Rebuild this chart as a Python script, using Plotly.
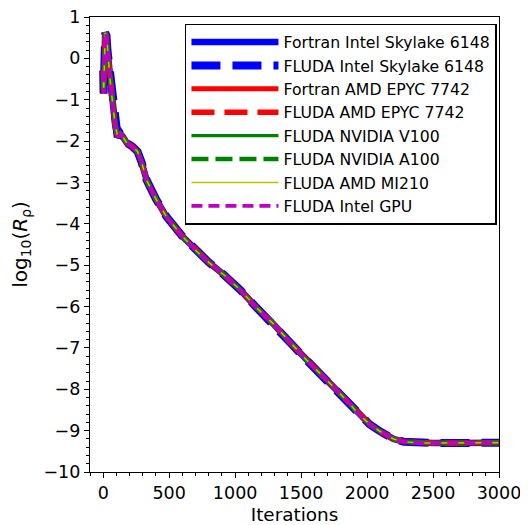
import plotly.graph_objects as go

# Shared convergence history (all runs overlap)
iterations = [0, 3, 8, 15, 25, 32, 40, 55, 70, 90, 110, 130, 150, 180, 220, 260, 290, 330,
              400, 480, 600, 710, 800, 910, 1040, 1160, 1290, 1420, 1540, 1670, 1800, 1870,
              1920, 2020, 2100, 2150, 2200, 2280, 2400, 2500, 2700, 3000]
log_res = [-0.3, -0.85, -0.3, 0.62, 0.55, 0.2, -0.05, -0.6, -1.1, -1.6, -1.9, -1.82, -1.9,
           -2.05, -2.13, -2.25, -2.5, -2.95, -3.4, -3.83, -4.3, -4.67, -4.93, -5.22, -5.6,
           -6.02, -6.42, -6.88, -7.29, -7.7, -8.12, -8.35, -8.55, -8.85, -9.02, -9.12,
           -9.2, -9.27, -9.3, -9.3, -9.3, -9.29]

series_names = ["Fortran Intel Skylake 6148", "FLUDA Intel Skylake 6148",
                "Fortran AMD EPYC 7742", "FLUDA AMD EPYC 7742",
                "FLUDA NVIDIA V100", "FLUDA NVIDIA A100",
                "FLUDA AMD MI210", "FLUDA Intel GPU"]
series_colors = ["#0000ff", "#0000ff", "#ff0000", "#ff0000",
                 "#008000", "#008000", "#bfbf00", "#bf00bf"]
series_widths = [6.5, 8, 5, 5.3, 3.3, 4.5, 1.6, 3.7]
series_dash = ["solid", "29px,12px", "solid", "23px,10px",
               "solid", "17px,7px", "solid", "11px,6px"]

x_ticks = [0, 500, 1000, 1500, 2000, 2500, 3000]
y_ticks = [1, 0, -1, -2, -3, -4, -5, -6, -7, -8, -9, -10]

fig = go.Figure()
for i, name in enumerate(series_names):
    fig.add_trace(go.Scatter(
        x=iterations, y=log_res, mode="lines", name=name,
        line=dict(color=series_colors[i], width=series_widths[i], dash=series_dash[i]),
    ))

font_family = "DejaVu Sans"
fig.update_layout(
    width=520, height=517,
    margin=dict(l=82, r=29, t=9, b=53),
    paper_bgcolor="white", plot_bgcolor="white",
    font=dict(family=font_family, size=17.5, color="black"),
    showlegend=True,
    legend=dict(x=0.995, y=0.985, xanchor="right", yanchor="top",
                bgcolor="white", bordercolor="black", borderwidth=1.5,
                font=dict(size=15.7), itemwidth=87),
    xaxis=dict(range=[-100, 3000], tickvals=x_ticks, ticks="outside", ticklen=5,
               tickwidth=1, tickcolor="black", showline=True, linecolor="black",
               linewidth=1.2, mirror=True, showgrid=False, zeroline=False,
               automargin=False, ticklabeloverflow="allow",
               minor=dict(ticks="outside", dtick=100, tick0=0, ticklen=2.5,
                          tickcolor="black", showgrid=False),
               title=dict(text="Iterations", standoff=6, font=dict(size=18.4))),
    yaxis=dict(range=[-10, 1], tickvals=y_ticks, ticks="outside", ticklen=5,
               tickwidth=1, tickcolor="black", showline=True, linecolor="black",
               linewidth=1.2, mirror=True, showgrid=False, zeroline=False,
               automargin=False, ticklabeloverflow="allow",
               minor=dict(ticks="outside", dtick=0.2, tick0=0, ticklen=2.5,
                          tickcolor="black", showgrid=False),
               title=dict(text="log<sub>10</sub>(<i>R</i><sub>ρ</sub>)", standoff=17,
                          font=dict(size=20))),
)

fig.write_html("out.html")
